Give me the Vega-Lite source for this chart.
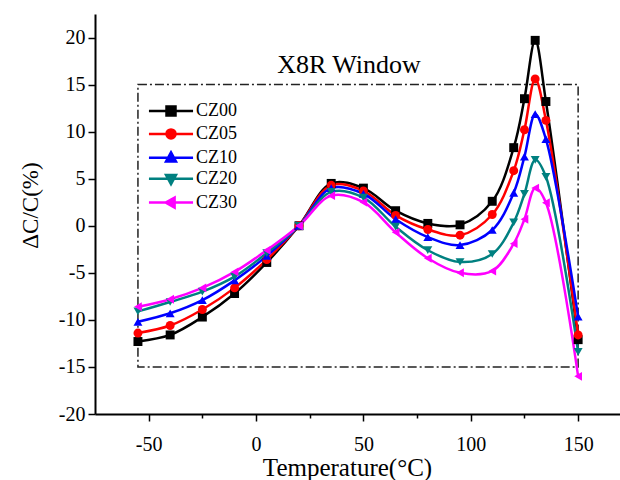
{
  "$schema": "https://vega.github.io/schema/vega-lite/v6.json",
  "autosize": {"type": "none"},
  "padding": {"left": 95, "top": 14, "right": 0, "bottom": 66},
  "width": 525,
  "height": 400,
  "background": "white",
  "config": {
    "view": {"stroke": null},
    "font": "Liberation Serif",
    "axis": {
      "domainColor": "black", "domainWidth": 2, "tickColor": "black", "tickWidth": 1.5,
      "labelColor": "black", "titleColor": "black", "labelFont": "Liberation Serif", "titleFont": "Liberation Serif",
      "labelFontSize": 20, "titleFontSize": 23, "titleFontWeight": "normal", "grid": false
    }
  },
  "datasets": {
    "curves": [
      {"T": -55, "v": -12.3, "s": "CZ00"}, {"T": -40, "v": -11.6, "s": "CZ00"}, {"T": -25, "v": -9.7, "s": "CZ00"}, {"T": -10, "v": -7.2, "s": "CZ00"}, {"T": 5, "v": -3.9, "s": "CZ00"}, {"T": 20, "v": 0, "s": "CZ00"}, {"T": 35, "v": 4.5, "s": "CZ00"}, {"T": 50, "v": 4.0, "s": "CZ00"}, {"T": 65, "v": 1.6, "s": "CZ00"}, {"T": 80, "v": 0.25, "s": "CZ00"}, {"T": 95, "v": 0.1, "s": "CZ00"}, {"T": 110, "v": 2.6, "s": "CZ00"}, {"T": 120, "v": 8.3, "s": "CZ00"}, {"T": 125, "v": 13.5, "s": "CZ00"}, {"T": 130, "v": 19.7, "s": "CZ00"}, {"T": 135, "v": 13.2, "s": "CZ00"}, {"T": 150, "v": -12.1, "s": "CZ00"},
      {"T": -55, "v": -11.4, "s": "CZ05"}, {"T": -40, "v": -10.6, "s": "CZ05"}, {"T": -25, "v": -8.9, "s": "CZ05"}, {"T": -10, "v": -6.6, "s": "CZ05"}, {"T": 5, "v": -3.6, "s": "CZ05"}, {"T": 20, "v": 0, "s": "CZ05"}, {"T": 35, "v": 4.3, "s": "CZ05"}, {"T": 50, "v": 3.7, "s": "CZ05"}, {"T": 65, "v": 1.1, "s": "CZ05"}, {"T": 80, "v": -0.4, "s": "CZ05"}, {"T": 95, "v": -1.0, "s": "CZ05"}, {"T": 110, "v": 1.2, "s": "CZ05"}, {"T": 120, "v": 5.85, "s": "CZ05"}, {"T": 125, "v": 10.2, "s": "CZ05"}, {"T": 130, "v": 15.6, "s": "CZ05"}, {"T": 135, "v": 11.2, "s": "CZ05"}, {"T": 150, "v": -11.6, "s": "CZ05"},
      {"T": -55, "v": -10.2, "s": "CZ10"}, {"T": -40, "v": -9.3, "s": "CZ10"}, {"T": -25, "v": -7.9, "s": "CZ10"}, {"T": -10, "v": -5.8, "s": "CZ10"}, {"T": 5, "v": -3.2, "s": "CZ10"}, {"T": 20, "v": 0, "s": "CZ10"}, {"T": 35, "v": 4.0, "s": "CZ10"}, {"T": 50, "v": 3.4, "s": "CZ10"}, {"T": 65, "v": 0.7, "s": "CZ10"}, {"T": 80, "v": -1.2, "s": "CZ10"}, {"T": 95, "v": -2.05, "s": "CZ10"}, {"T": 110, "v": -0.45, "s": "CZ10"}, {"T": 120, "v": 3.5, "s": "CZ10"}, {"T": 125, "v": 7.35, "s": "CZ10"}, {"T": 130, "v": 11.85, "s": "CZ10"}, {"T": 135, "v": 9.2, "s": "CZ10"}, {"T": 150, "v": -9.65, "s": "CZ10"},
      {"T": -55, "v": -9.1, "s": "CZ20"}, {"T": -40, "v": -8.1, "s": "CZ20"}, {"T": -25, "v": -7.0, "s": "CZ20"}, {"T": -10, "v": -5.4, "s": "CZ20"}, {"T": 5, "v": -2.9, "s": "CZ20"}, {"T": 20, "v": 0, "s": "CZ20"}, {"T": 35, "v": 3.6, "s": "CZ20"}, {"T": 50, "v": 3.0, "s": "CZ20"}, {"T": 65, "v": -0.1, "s": "CZ20"}, {"T": 80, "v": -2.6, "s": "CZ20"}, {"T": 95, "v": -3.85, "s": "CZ20"}, {"T": 110, "v": -3.0, "s": "CZ20"}, {"T": 120, "v": 0.35, "s": "CZ20"}, {"T": 125, "v": 3.4, "s": "CZ20"}, {"T": 130, "v": 7.0, "s": "CZ20"}, {"T": 135, "v": 5.2, "s": "CZ20"}, {"T": 150, "v": -13.4, "s": "CZ20"},
      {"T": -55, "v": -8.6, "s": "CZ30"}, {"T": -40, "v": -7.8, "s": "CZ30"}, {"T": -25, "v": -6.6, "s": "CZ30"}, {"T": -10, "v": -4.9, "s": "CZ30"}, {"T": 5, "v": -2.6, "s": "CZ30"}, {"T": 20, "v": 0, "s": "CZ30"}, {"T": 35, "v": 3.2, "s": "CZ30"}, {"T": 50, "v": 2.5, "s": "CZ30"}, {"T": 65, "v": -0.7, "s": "CZ30"}, {"T": 80, "v": -3.45, "s": "CZ30"}, {"T": 95, "v": -5.0, "s": "CZ30"}, {"T": 110, "v": -4.8, "s": "CZ30"}, {"T": 120, "v": -1.9, "s": "CZ30"}, {"T": 125, "v": 0.7, "s": "CZ30"}, {"T": 130, "v": 4.0, "s": "CZ30"}, {"T": 135, "v": 2.45, "s": "CZ30"}, {"T": 150, "v": -16.0, "s": "CZ30"}
    ],
    "window": [{"t1": -55, "t2": 150, "v1": -15, "v2": 15, "name": "X8R Window"}]
  },
  "layer": [
    {
      "data": {"name": "window"},
      "mark": {"type": "rect", "fill": null, "stroke": "#222222", "strokeWidth": 1.5, "strokeDash": [9, 3, 2, 3]},
      "encoding": {
        "x": {"field": "t1", "type": "quantitative", "scale": {"domain": [-75, 169.5], "nice": false, "zero": false},
          "axis": {"title": "Temperature(°C)", "values": [-50, -25, 0, 25, 50, 75, 100, 125, 150],
            "labelExpr": "datum.value % 50 == 0 ? '' + datum.value : ''",
            "tickSize": {"condition": {"test": "datum.value % 50 == 0", "value": 7}, "value": 4},
            "labelPadding": 13, "titleFontSize": 25, "titleX": 252, "titleY": 53, "titleBaseline": "middle"}},
        "x2": {"field": "t2"},
        "y": {"field": "v1", "type": "quantitative", "scale": {"domain": [-20, 22.5], "nice": false, "zero": false},
          "axis": {"title": "ΔC/C(%)", "values": [-20, -17.5, -15, -12.5, -10, -7.5, -5, -2.5, 0, 2.5, 5, 7.5, 10, 12.5, 15, 17.5, 20],
            "labelExpr": "datum.value % 5 == 0 ? '' + datum.value : ''",
            "tickSize": {"condition": {"test": "datum.value % 5 == 0", "value": 7}, "value": 4},
            "labelPadding": 3, "titleX": -65, "titleY": 191, "titleBaseline": "middle"}},
        "y2": {"field": "v2"}
      }
    },
    {
      "data": {"name": "window"},
      "mark": {"type": "text", "fontSize": 26, "font": "Liberation Serif", "color": "black", "baseline": "middle", "align": "center"},
      "encoding": {
        "x": {"datum": 43.3, "type": "quantitative"},
        "y": {"datum": 17.1, "type": "quantitative"},
        "text": {"field": "name"}
      }
    },
    {
      "mark": {"type": "rule", "color": "black", "strokeWidth": 2},
      "encoding": {"y": {"datum": 22.5, "type": "quantitative"}}
    },
    {
      "data": {"name": "curves"},
      "mark": {"type": "line", "interpolate": "catmull-rom", "strokeWidth": 2.5},
      "encoding": {
        "x": {"field": "T", "type": "quantitative"},
        "y": {"field": "v", "type": "quantitative"},
        "color": {"field": "s", "type": "nominal", "legend": null,
          "scale": {"domain": ["CZ00", "CZ05", "CZ10", "CZ20", "CZ30"], "range": ["#000000", "#ff0000", "#0000ff", "#008080", "#ff00ff"]}}
      }
    },
    {
      "data": {"name": "curves"},
      "mark": {"type": "point", "filled": true, "opacity": 1, "size": 80},
      "encoding": {
        "x": {"field": "T", "type": "quantitative"},
        "y": {"field": "v", "type": "quantitative"},
        "color": {"field": "s", "type": "nominal", "legend": null},
        "shape": {"field": "s", "type": "nominal", "legend": null,
          "scale": {"domain": ["CZ00", "CZ05", "CZ10", "CZ20", "CZ30"], "range": ["square", "circle", "triangle-up", "triangle-down", "triangle-left"]}}
      }
    },
    {
      "data": {"name": "curves"},
      "transform": [{"filter": "false"}],
      "mark": {"type": "point", "filled": true, "opacity": 1},
      "encoding": {
        "fill": {"field": "s", "type": "nominal",
          "scale": {"domain": ["CZ00", "CZ05", "CZ10", "CZ20", "CZ30"], "range": ["#000000", "#ff0000", "#0000ff", "#008080", "#ff00ff"]},
          "legend": {"orient": "none", "legendX": 67, "legendY": 88, "title": null, "padding": 0,
            "labelFont": "Liberation Serif", "labelFontSize": 18, "labelColor": "black", "labelOffset": 16,
            "symbolSize": 81, "symbolStrokeWidth": 2.5, "symbolOpacity": 1, "rowPadding": 2.9}},
        "stroke": {"field": "s", "type": "nominal",
          "scale": {"domain": ["CZ00", "CZ05", "CZ10", "CZ20", "CZ30"], "range": ["#000000", "#ff0000", "#0000ff", "#008080", "#ff00ff"]},
          "legend": {"orient": "none", "legendX": 67, "legendY": 88, "title": null, "padding": 0,
            "labelFont": "Liberation Serif", "labelFontSize": 18, "labelColor": "black", "labelOffset": 16,
            "symbolSize": 81, "symbolStrokeWidth": 2.5, "symbolOpacity": 1, "rowPadding": 2.9}},
        "shape": {"field": "s", "type": "nominal",
          "scale": {"domain": ["CZ00", "CZ05", "CZ10", "CZ20", "CZ30"],
            "range": [
              "M-4.9,0H4.9M-1,-1H1V1H-1Z",
              "M-4.9,0H4.9M1,0A1,1,0,1,1,-1,0A1,1,0,1,1,1,0Z",
              "M-4.9,0H4.9M0,-1.2L1.1,0.8L-1.1,0.8Z",
              "M-4.9,0H4.9M0,1.2L1.1,-0.8L-1.1,-0.8Z",
              "M-4.9,0H4.9M-1.2,0L0.8,-1.1L0.8,1.1Z"
            ]},
          "legend": {"orient": "none", "legendX": 67, "legendY": 88, "title": null, "padding": 0,
            "labelFont": "Liberation Serif", "labelFontSize": 18, "labelColor": "black", "labelOffset": 16,
            "symbolSize": 81, "symbolStrokeWidth": 2.5, "symbolOpacity": 1, "rowPadding": 2.9}}
      }
    }
  ],
  "resolve": {"scale": {"shape": "independent", "fill": "independent", "stroke": "independent"}}
}
